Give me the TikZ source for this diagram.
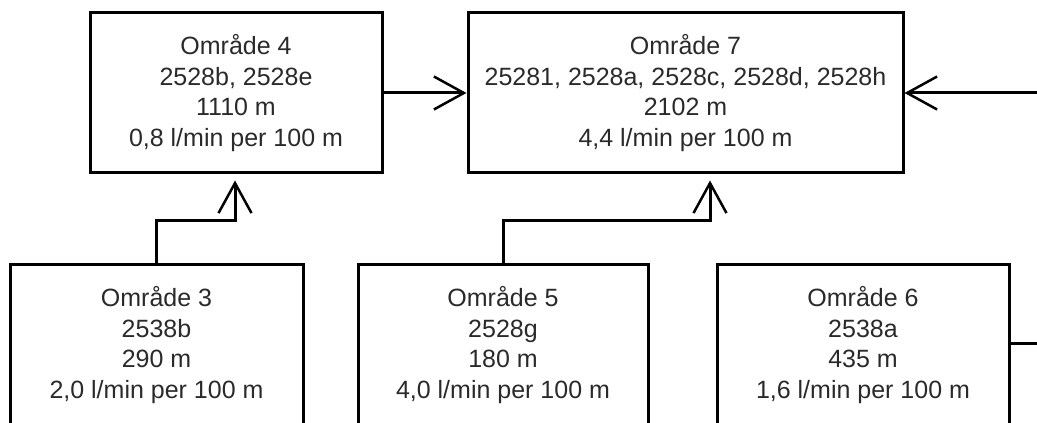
\documentclass[tikz,border=0pt]{standalone}
\usepackage{fontspec}
\setmainfont{Liberation Sans}
\usetikzlibrary{arrows.meta}
\definecolor{schemaink}{HTML}{000000}
\definecolor{schematext}{HTML}{2A2A2A}

\begin{document}
\begin{tikzpicture}[x=1pt, y=1pt,
                    area/.style={draw=schemaink, line width=3pt, align=center,
                                 minimum height=160pt, inner sep=0pt,
                                 text=schematext,
                                 font=\fontsize{25}{30.5}\selectfont},
                    flow/.style={draw=schemaink, line width=3pt,
                                 -{Straight Barb[length=30pt, width=33pt, line width=2.5pt]}},
                    link/.style={draw=schemaink, line width=3pt}]

  %% bildens ram
  \useasboundingbox (0,0) rectangle (1037,423);
  \clip (0,0) rectangle (1037,423);

  %% övre raden
  \node[area, minimum width=292pt] (o4) at (236,330)
    {Område 4\\2528b, 2528e\\1110 m\\0,8 l/min per 100 m};
  \node[area, minimum width=435pt] (o7) at (685.5,330)
    {Område 7\\25281, 2528a, 2528c, 2528d, 2528h\\2102 m\\4,4 l/min per 100 m};

  %% nedre raden
  \node[area, minimum width=293pt] (o3) at (156.5,78)
    {Område 3\\2538b\\290 m\\2,0 l/min per 100 m};
  \node[area, minimum width=290pt] (o5) at (503,78)
    {Område 5\\2528g\\180 m\\4,0 l/min per 100 m};
  \node[area, minimum width=292pt] (o6) at (863,78)
    {Område 6\\2538a\\435 m\\1,6 l/min per 100 m};

  %% knutpunkter
  \coordinate (j4) at (235,202);
  \coordinate (j7) at (710,202);
  \coordinate (in7) at (1045,330);
  \coordinate (out6) at (1045,79);

  %% förbindelser
  \draw[flow] (o4.east) -- (o7.west);
  \draw[flow] (in7) -- (o7.east);
  \draw[flow, shorten >=6pt] (o3.north) |- (j4) -- (j4 |- o4.south);
  \draw[flow, shorten >=6pt] (o5.north) |- (j7) -- (j7 |- o7.south);
  \draw[link] (o6.east |- out6) -- (out6);

\end{tikzpicture}
\end{document}
